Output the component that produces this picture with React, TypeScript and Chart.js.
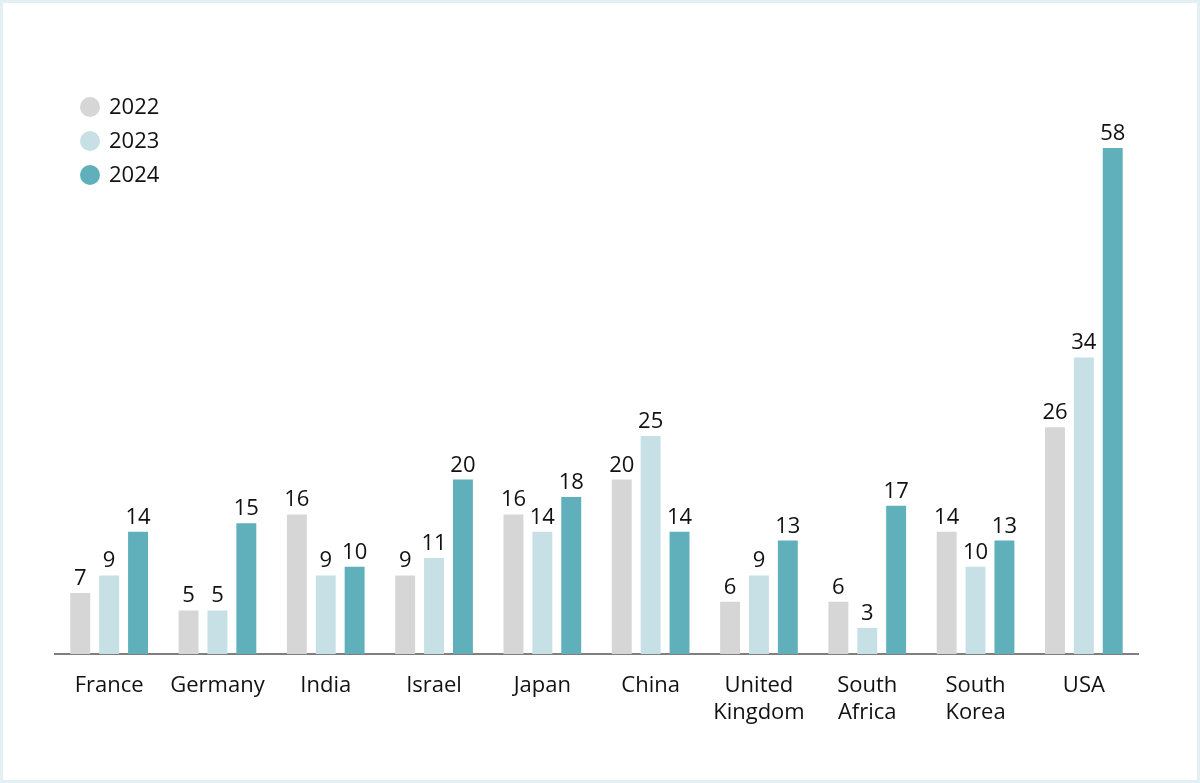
import React, { useEffect, useRef } from 'react';
import { Chart, registerables } from 'chart.js';

Chart.register(...registerables);

const countries: (string | string[])[] = [
  'France',
  'Germany',
  'India',
  'Israel',
  'Japan',
  'China',
  ['United', 'Kingdom'],
  ['South', 'Africa'],
  ['South', 'Korea'],
  'USA',
];

const years = ['2022', '2023', '2024'];
const values2022 = [7, 5, 16, 9, 16, 20, 6, 6, 14, 26];
const values2023 = [9, 5, 9, 11, 14, 25, 9, 3, 10, 34];
const values2024 = [14, 15, 10, 20, 18, 14, 13, 17, 13, 58];
const colors = ['#d6d6d6', '#c6e0e6', '#5fb0bb'];

const FONT = "'Open Sans', 'Noto Sans', sans-serif";
const TEXT = '#111111';

// étiquettes au-dessus des barres
const valueLabels = {
  id: 'valueLabels',
  afterDatasetsDraw(chart: Chart) {
    const ctx = chart.ctx;
    ctx.save();
    ctx.font = `22px ${FONT}`;
    ctx.fillStyle = TEXT;
    ctx.textAlign = 'center';
    ctx.textBaseline = 'alphabetic';
    chart.data.datasets.forEach((ds, i) => {
      const meta = chart.getDatasetMeta(i);
      meta.data.forEach((bar: any, j) => {
        ctx.fillText(String(ds.data[j]), bar.x, bar.y - 8);
      });
    });
    ctx.restore();
  },
};

// légende verticale en haut à gauche
const sideLegend = {
  id: 'sideLegend',
  afterDraw(chart: Chart) {
    const ctx = chart.ctx;
    ctx.save();
    ctx.font = `22px ${FONT}`;
    ctx.textBaseline = 'middle';
    ctx.textAlign = 'left';
    chart.data.datasets.forEach((ds, i) => {
      const y = 104 + i * 34;
      ctx.fillStyle = ds.backgroundColor as string;
      ctx.beginPath();
      ctx.arc(87, y, 10, 0, Math.PI * 2);
      ctx.fill();
      ctx.fillStyle = TEXT;
      ctx.fillText(ds.label || '', 106, y + 1);
    });
    ctx.restore();
  },
};

export default function App() {
  const chartRef = useRef<HTMLCanvasElement>(null);
  const chartInstance = useRef<Chart | null>(null);

  useEffect(() => {
    if (!chartRef.current) return;
    if (chartInstance.current) chartInstance.current.destroy();
    const ctx = chartRef.current.getContext('2d');
    if (!ctx) return;

    const series = [values2022, values2023, values2024];

    chartInstance.current = new Chart(ctx, {
      type: 'bar',
      data: {
        labels: countries,
        datasets: years.map((y, i) => ({
          label: y,
          data: series[i],
          backgroundColor: colors[i],
          borderWidth: 0,
          categoryPercentage: 0.8,
          barPercentage: 0.69,
        })),
      },
      options: {
        animation: false,
        responsive: true,
        maintainAspectRatio: false,
        layout: { padding: { left: 52, right: 59, top: 145, bottom: 0 } },
        plugins: {
          legend: { display: false },
          tooltip: { enabled: false },
        },
        scales: {
          x: {
            grid: { display: false, drawTicks: false },
            border: { display: true, color: '#7f7f7f', width: 2 },
            ticks: {
              color: TEXT,
              padding: 18,
              maxRotation: 0,
              autoSkip: false,
              font: { family: FONT, size: 22, lineHeight: 1.22 },
            },
            afterFit: (scale: any) => {
              scale.height = 126;
            },
          },
          y: {
            display: false,
            min: 0,
            max: 58,
          },
        },
      },
      plugins: [valueLabels, sideLegend],
    });

    return () => {
      if (chartInstance.current) {
        chartInstance.current.destroy();
        chartInstance.current = null;
      }
    };
  }, []);

  return (
    <div
      style={{
        position: 'fixed',
        top: 0,
        left: 0,
        width: 1200,
        height: 783,
        boxSizing: 'border-box',
        border: '3px solid #e3eff3',
        background: '#fff',
      }}
    >
      <div style={{ position: 'relative', width: 1194, height: 777 }}>
        <canvas ref={chartRef} />
      </div>
    </div>
  );
}
